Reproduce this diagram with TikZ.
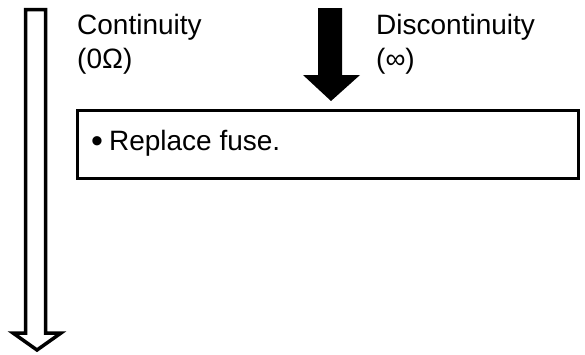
\documentclass[tikz,border=0pt]{standalone}
\usepackage{fontspec}
\setmainfont{Liberation Sans}
\usetikzlibrary{positioning}

\begin{document}
\begin{tikzpicture}
        [
        x=1pt, y=-1pt,
        label/.style={inner sep=0pt, anchor=base west, font=\fontsize{28}{32}\selectfont},
        action/.style={draw, line width=3.2pt, minimum width=501pt, minimum height=68pt, anchor=north west},
        hollow/.style={draw, line width=3.5pt, fill=white, line join=miter},
        solid/.style={fill=black}
        ]

        \useasboundingbox (0,0) rectangle (585,354);

        % labels of the two results
        \node[label] (cont) at (77,34) {Continuity};
        \node[label] (contval) at (77,68) {(0Ω)};
        \node[label] (disc) at (376,34) {Discontinuity};
        \node[label] (discval) at (376,68) {(∞)};

        % action box
        \node[action] (fuse) at (75.5,108.5) {};
        \node[label] (fusetext) at (91,150) {\raisebox{-2.5pt}{\fontsize{34}{34}\selectfont •}\kern6pt Replace fuse.};

        % continuity arrow (hollow)
        \coordinate (conttop) at (35.5,9.5);
        \coordinate (conttip) at (37,350);
        \draw[hollow] (25.5,9.5) -- (45.5,9.5) -- (45.5,333) -- (61,333)
                -- (conttip) -- (13,333) -- (25.5,333) -- cycle;

        % discontinuity arrow (solid)
        \coordinate (disctip) at (331,101);
        \fill[solid] (318,8) -- (342,8) -- (342,75) -- (360,75)
                -- (disctip) -- (303,75) -- (318,75) -- cycle;

    \end{tikzpicture}
\end{document}
